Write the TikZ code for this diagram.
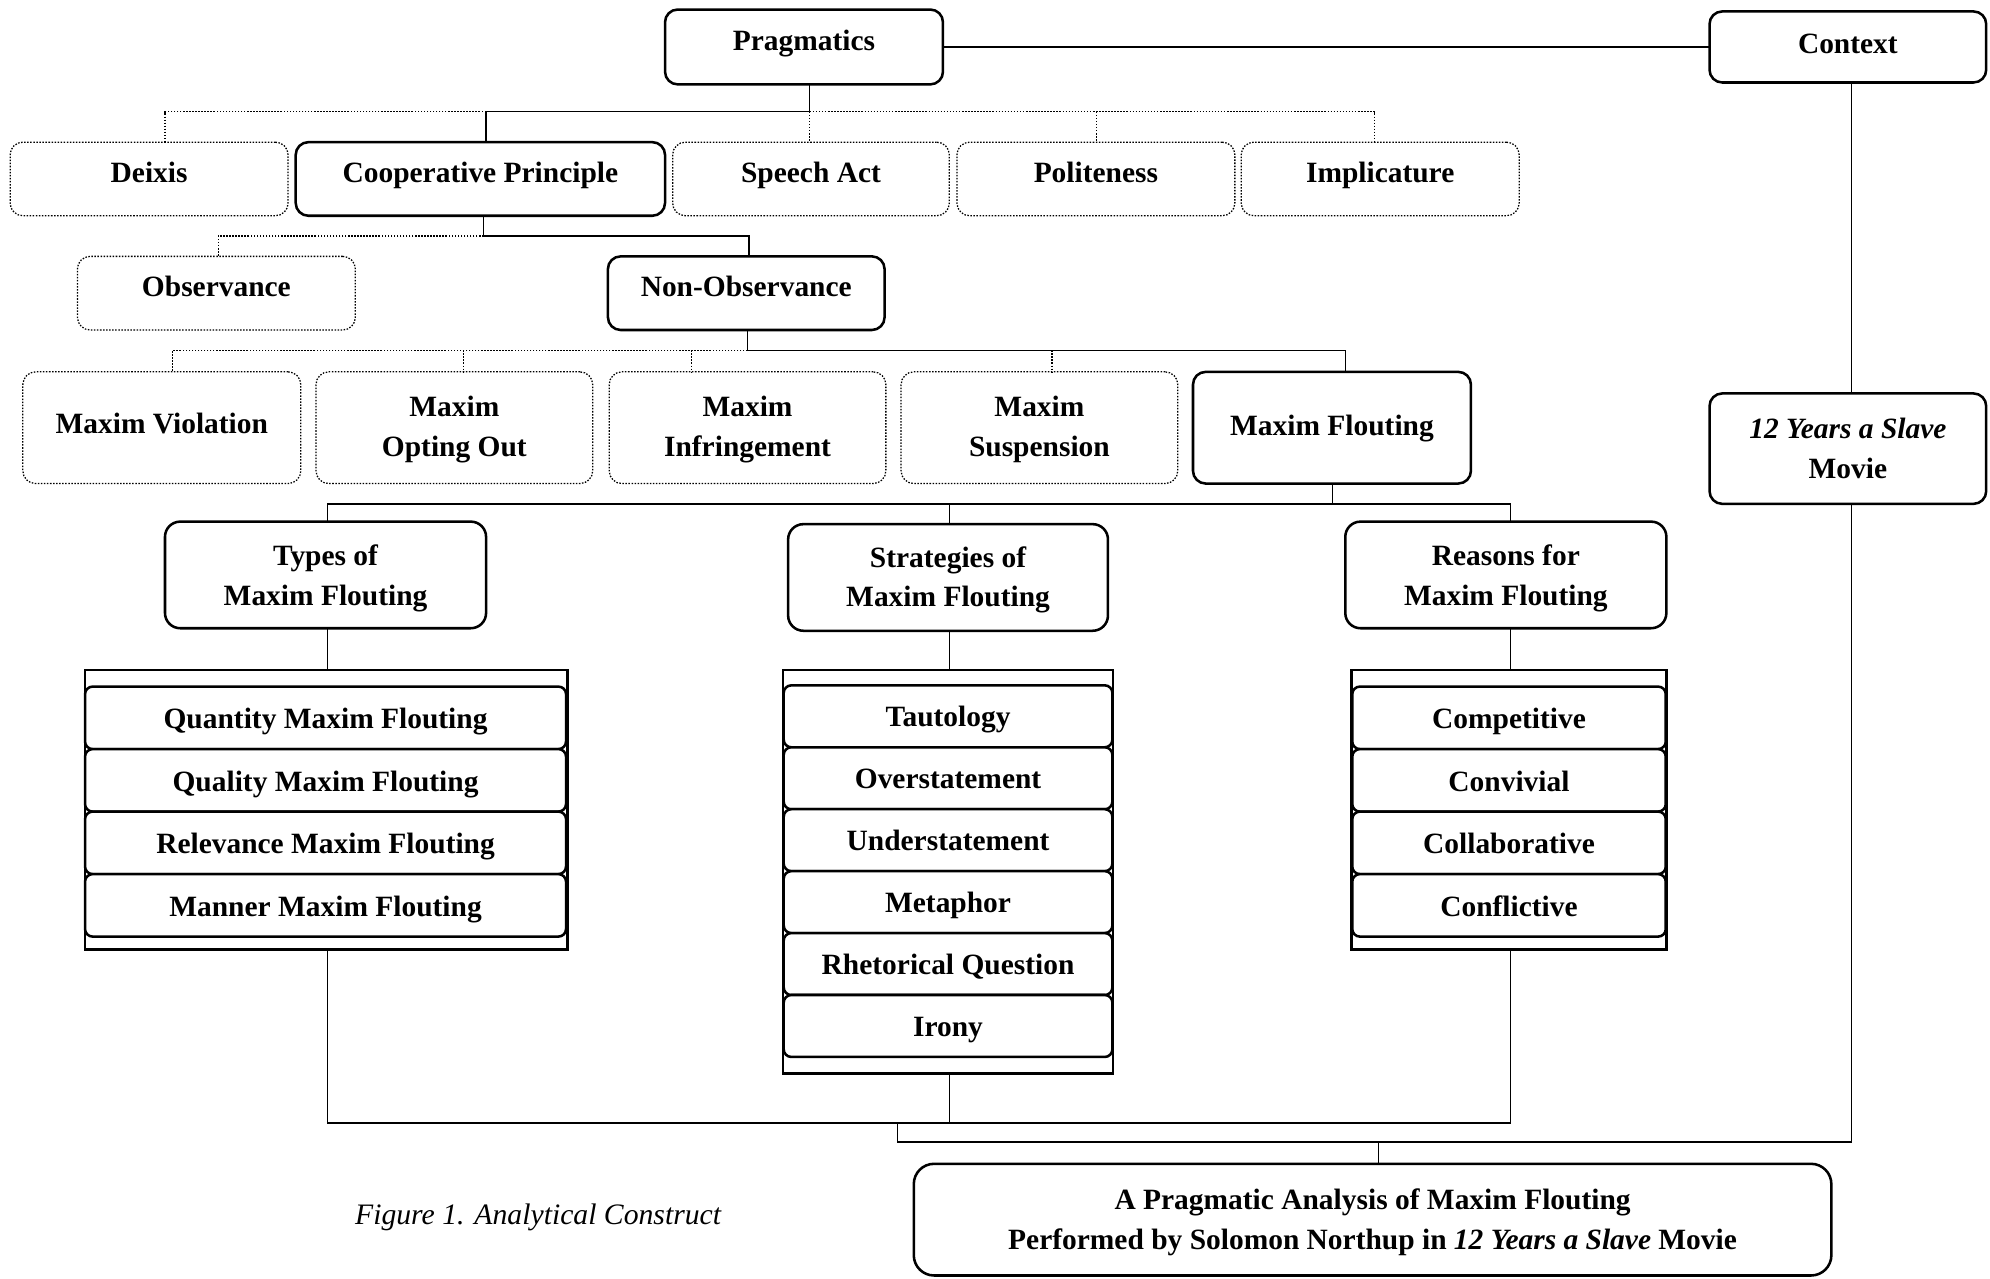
\documentclass[tikz,border=0pt]{standalone}
\usepackage{fontspec}
\setmainfont{Liberation Serif}
\newcommand\lowr[1]{\rule{0pt}{#1}}
\tikzset{
  sz/.style 2 args={minimum width=#1*0.5pt, minimum height=#2*0.5pt},
  sbox/.style={draw, line width=1pt, rounded corners=5pt, inner sep=0pt, outer sep=0pt, align=center},
  dbox/.style={draw, line width=0.5pt, dash pattern=on 0.6pt off 0.6pt, rounded corners=5pt, inner sep=0pt, outer sep=0pt, align=center},
  one/.style={text height=0.7em, text depth=#1},
  one/.default=0.45em,
  cont/.style={draw, line width=1pt, inner sep=0pt, outer sep=0pt},
  item/.style={draw, line width=1pt, rounded corners=3pt, fill=white, inner sep=0pt, outer sep=0pt, text height=0.84em, text depth=0em},
  conn/.style={line width=0.6pt},
  dconn/.style={line width=0.5pt, dash pattern=on 0.6pt off 0.6pt}
}
\begin{document}
\begin{tikzpicture}[x=0.5pt,y=-0.5pt, font=\fontsize{11.6}{15.7}\selectfont\bfseries]
\useasboundingbox (0,0) rectangle (1568,1007);

% level 0
\node[sbox, one=0.4em, sz={219}{59}] (prag) at (633.5,37) {Pragmatics};
\node[sbox, one=0.2em, sz={218}{56}] (ctx) at (1456,37) {Context};

% level 1
\node[dbox, one, sz={219}{58}] (deix) at (117.5,141) {Deixis};
\node[sbox, one, sz={291}{58}] (coop) at (378.5,141) {Cooperative Principle};
\node[dbox, one, sz={218}{58}] (speech) at (639,141) {Speech Act};
\node[dbox, one, sz={219}{58}] (pol) at (863.5,141) {Politeness};
\node[dbox, one, sz={219}{58}] (impl) at (1087.5,141) {Implicature};

% level 2
\node[dbox, one, sz={219}{58}] (obs) at (170.5,231) {Observance};
\node[sbox, one, sz={218}{58}] (nonobs) at (588,231) {Non-Observance};

% level 3
\node[dbox, one=0.28em, sz={219}{88}] (mviol) at (127.5,337) {Maxim Violation};
\node[dbox, sz={218}{88}] (mopt) at (358,337) {\lowr{0.82em}Maxim\\Opting Out};
\node[dbox, sz={218}{88}] (minf) at (589,337) {\lowr{0.82em}Maxim\\Infringement};
\node[dbox, sz={218}{88}] (msus) at (819,337) {\lowr{0.82em}Maxim\\Suspension};
\node[sbox, one=0.12em, sz={219}{88}] (mflout) at (1049.5,337) {Maxim Flouting};

% context side
\node[sbox, sz={218}{87}] (movie) at (1456,353.5) {\textit{12 Years a Slave}\\Movie};

% level 4
\node[sbox, rounded corners=6pt, sz={253}{84}] (types) at (256.5,453) {\lowr{0.95em}Types of\\Maxim Flouting};
\node[sbox, rounded corners=6pt, sz={252}{84}] (strat) at (747,455) {\lowr{0.87em}Strategies of\\Maxim Flouting};
\node[sbox, rounded corners=6pt, sz={253}{84}] (reas) at (1186.5,453) {\lowr{0.95em}Reasons for\\Maxim Flouting};

% containers
\node[cont, sz={380}{220}] (cont1) at (257,638) {};
\node[cont, sz={260}{318}] (cont2) at (747,687) {};
\node[cont, sz={248}{220}] (cont3) at (1189,638) {};

\foreach \t [count=\i] in {Quantity Maxim Flouting, Quality Maxim Flouting, Relevance Maxim Flouting, Manner Maxim Flouting}
  \node[item, sz={379}{49.25}] (ty\i) at (256.5,{565.6+(\i-1)*49.25}) {\t};
\foreach \t [count=\i] in {Tautology, Overstatement, Understatement, Metaphor, Rhetorical Question, Irony}
  \node[item, sz={259}{48.8}] (st\i) at (747,{564.4+(\i-1)*48.8}) {\t};
\foreach \t [count=\i] in {Competitive, Convivial, Collaborative, Conflictive}
  \node[item, sz={247}{49.25}] (re\i) at (1189,{565.6+(\i-1)*49.25}) {\t};

% final
\node[sbox, rounded corners=8pt, sz={723}{88}] (final) at (1081.5,961) {\lowr{0.87em}A Pragmatic Analysis of Maxim Flouting\\Performed by Solomon Northup in \textit{12 Years a Slave} Movie};
\node[font=\fontsize{11.7}{14}\selectfont\itshape, inner sep=0pt] (cap) at (424,959) {Figure 1. Analytical Construct};

% connectors level 0 -> 1
\coordinate (p0) at (638,88);
\coordinate (pc) at (383,88);
\coordinate (pd) at (130,88);
\coordinate (pp) at (864,88);
\coordinate (pi) at (1083,88);
\draw[conn] (prag.east) -- (prag.east -| ctx.west);
\draw[dconn] (pc) -- (pd) -- (pd |- deix.north);
\draw[dconn] (p0) -- (pi) -- (pi |- impl.north);
\draw[dconn] (p0) -- (p0 |- speech.north);
\draw[dconn] (pp) -- (pp |- pol.north);
\draw[conn] (prag.south -| p0) -- (p0) -- (pc) -- (pc |- coop.north);

% level 1 -> 2
\coordinate (c0) at (381,186);
\coordinate (co) at (172,186);
\coordinate (cn) at (590,186);
\draw[dconn] (c0) -- (co) -- (co |- obs.north);
\draw[conn] (coop.south -| c0) -- (c0) -- (cn) -- (cn |- nonobs.north);

% level 2 -> 3
\coordinate (n0) at (589,276);
\coordinate (nv) at (136,276);
\coordinate (no) at (365,276);
\coordinate (ni) at (545,276);
\coordinate (ns) at (829,276);
\coordinate (nf) at (1060,276);
\draw[dconn] (n0) -- (nv) -- (nv |- mviol.north);
\draw[dconn] (no) -- (no |- mopt.north);
\draw[dconn] (ni) -- (ni |- minf.north);
\draw[dconn] (ns) -- (ns |- msus.north);
\draw[conn] (nonobs.south -| n0) -- (n0) -- (nf) -- (nf |- mflout.north);

% level 3 -> 4
\coordinate (m0) at (1050,397);
\coordinate (mt) at (258,397);
\coordinate (ms) at (748,397);
\coordinate (mr) at (1190,397);
\draw[conn] (mflout.south -| m0) -- (m0) -- (mt) -- (mt |- types.north);
\draw[conn] (m0) -- (mr) -- (mr |- reas.north);
\draw[conn] (ms) -- (ms |- strat.north);

% level 4 -> containers
\draw[conn] (types.south -| mt) -- (cont1.north -| mt);
\draw[conn] (strat.south -| ms) -- (cont2.north -| ms);
\draw[conn] (reas.south -| mr) -- (cont3.north -| mr);

% bottom
\coordinate (bl) at (258,885);
\coordinate (bm) at (748,885);
\coordinate (br) at (1190,885);
\coordinate (bj) at (707,885);
\coordinate (bj2) at (707,900);
\coordinate (bf) at (1086,900);
\coordinate (bc) at (1459,900);
\draw[conn] (cont1.south -| bl) -- (bl) -- (br) -- (cont3.south -| br);
\draw[conn] (cont2.south -| bm) -- (bm);
\draw[conn] (bj) -- (bj2) -- (bc) -- (bc |- movie.south);
\draw[conn] (ctx.south -| bc) -- (movie.north -| bc);
\draw[conn] (bf) -- (bf |- final.north);
\end{tikzpicture}
\end{document}
